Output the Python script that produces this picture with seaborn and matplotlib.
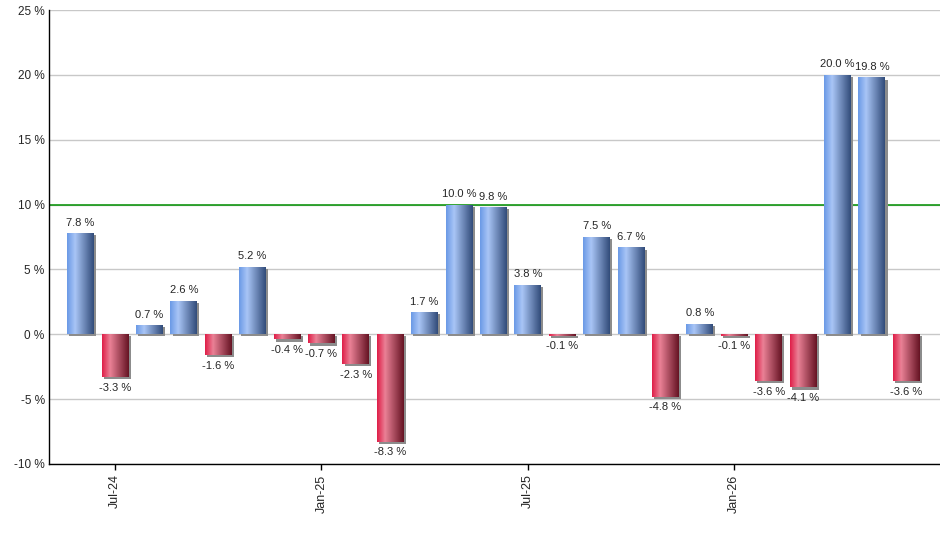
import numpy as np
import pandas as pd
import seaborn as sns
import matplotlib.pyplot as plt
import matplotlib.patheffects as pe
from matplotlib.colors import LinearSegmentedColormap

# -------------------------------------------------
# DATA
# -------------------------------------------------

months = pd.date_range("2024-06-01", "2026-06-01", freq="MS")
month_labels = [m.strftime("%b-%y") for m in months]

returns = [7.8, -3.3, 0.7, 2.6, -1.6, 5.2, -0.4, -0.7, -2.3, -8.3, 1.7, 10.0, 9.8,
           3.8, -0.1, 7.5, 6.7, -4.8, 0.8, -0.1, -3.6, -4.1, 20.0, 19.8, -3.6]

tick_months = ["Jul-24", "Jan-25", "Jul-25", "Jan-26"]
y_ticks = [-10, -5, 0, 5, 10, 15, 20, 25]
target = 10

df = pd.DataFrame({"Month": month_labels, "Return": returns})

# -------------------------------------------------
# STYLE
# -------------------------------------------------

sns.set_style("white")
plt.rcParams["font.family"] = ["Liberation Sans", "DejaVu Sans"]

blue_cmap = LinearSegmentedColormap.from_list(
    "blue", [(0, "#6b9ae6"), (0.3, "#a9c5f6"), (1, "#324c7a")])
red_cmap = LinearSegmentedColormap.from_list(
    "red", [(0, "#df1f48"), (0.3, "#ea8196"), (1, "#661424")])

fig = plt.figure(figsize=(9.4, 5.5), dpi=100)
ax = fig.add_axes([0.052, 0.1564, 0.948, 0.8254])

ax.axhline(target, color="#009000", lw=1.1, zorder=1)

sns.barplot(data=df, x="Month", y="Return", order=month_labels,
            color="#8aaeea", width=0.78, ax=ax, zorder=2)

# gradient fill clipped to each bar, with a small grey drop shadow
grad = np.linspace(0, 1, 64).reshape(1, -1)
for patch, val in zip(ax.patches, returns):
    x, w = patch.get_x(), patch.get_width()
    y0, h = patch.get_y(), patch.get_height()
    patch.set_edgecolor("none")
    patch.set_path_effects([
        pe.SimplePatchShadow(offset=(1.6, -1.6), shadow_rgbFace="#8c8c8c", alpha=1),
        pe.Normal()])
    img = ax.imshow(grad, cmap=blue_cmap if val >= 0 else red_cmap,
                    extent=[x, x + w, y0, y0 + h], aspect="auto",
                    origin="lower", zorder=3)
    img.set_clip_path(patch)

# value labels
for i, v in enumerate(returns):
    ax.annotate(f"{v:.1f} %", xy=(i, v),
                xytext=(0, 4 if v >= 0 else -4), textcoords="offset points",
                ha="center", va="bottom" if v >= 0 else "top",
                fontsize=8, zorder=5)

ax.set_xlim(-0.92, 24.98)
ax.set_ylim(-10, 25)
ax.set_yticks(y_ticks)
ax.set_yticklabels([f"{t} %" for t in y_ticks], fontsize=8.5)
ax.yaxis.grid(True, color="#c8c8c8", lw=1)
ax.set_axisbelow(True)

ax.set_xticks([month_labels.index(m) for m in tick_months])
ax.set_xticklabels(tick_months, rotation=90, fontsize=9)
ax.tick_params(axis="x", length=4, width=1, color="black", bottom=True)
ax.tick_params(axis="y", length=0, pad=3)

ax.set_xlabel("")
ax.set_ylabel("")
for side in ["top", "right"]:
    ax.spines[side].set_visible(False)
for side in ["left", "bottom"]:
    ax.spines[side].set_color("black")
    ax.spines[side].set_linewidth(1)

fig.savefig("out.png", dpi=100)
